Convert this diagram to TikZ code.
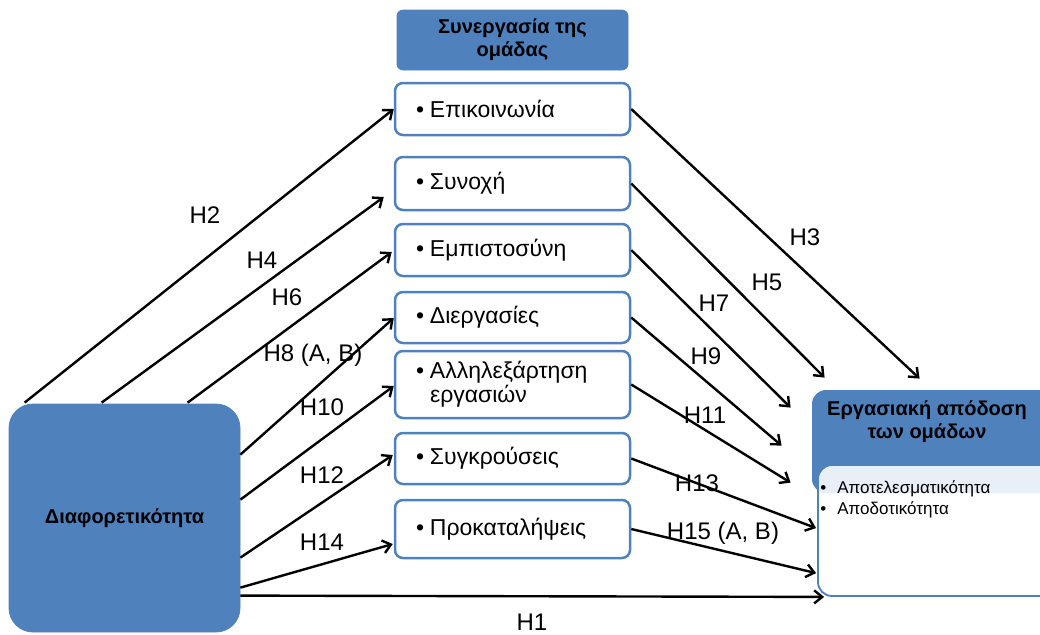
\documentclass[tikz,border=0pt]{standalone}
\usepackage{fontspec}
\setmainfont{Liberation Sans}
\usetikzlibrary{arrows.meta}
\definecolor{accblue}{RGB}{79,129,189}
\newcommand\myitemfont{\fontsize{11.5}{10}\selectfont}
\newcommand\myboldfont{\fontsize{10}{11.5}\selectfont\bfseries}
\newcommand\mylabfont{\fontsize{12}{14}\selectfont}
\newcommand\mysmallfont{\fontsize{8.5}{10.5}\selectfont}
\newcommand\bul{\makebox[7pt][l]{\textbullet}}
\newcommand\sbul{\makebox[8.5pt][l]{\textbullet}}
\begin{document}
\begin{tikzpicture}[x=0.5pt,y=-0.5pt,
  mitem/.style={draw=accblue, line width=1.25pt, fill=white, rounded corners=4pt,
    text width=96.5pt, inner xsep=10.5pt, inner ysep=0pt, align=left,
    font=\myitemfont, minimum height=#1},
  bluebox/.style={fill=accblue, draw=accblue, align=center, font=\myboldfont, inner sep=0pt},
  arr/.style={-{Straight Barb[length=4pt,width=6.5pt]}, line width=1.2pt, black},
  lab/.style={font=\mylabfont, inner sep=0pt}
]
\clip (0,0) rectangle (1040,634);
\useasboundingbox (0,0) rectangle (1040,634);

% top title
\node[bluebox, rounded corners=3pt, minimum width=115.5pt, minimum height=30pt] (ttl) at (512.5,40) {Συνεργασία της\\ομάδας};

% middle column
\node[mitem=26pt] (epi) at (512.5,109) {\bul Επικοινωνία};
\node[mitem=26.5pt] (syn) at (512.5,183.5) {\bul Συνοχή};
\node[mitem=26pt] (emp) at (512.5,250) {\bul Εμπιστοσύνη};
\node[mitem=25.5pt] (dier) at (512.5,317.5) {\bul Διεργασίες};
\node[mitem=33.5pt] (allil) at (512.5,384.5) {\bul Αλληλεξάρτηση\\\hspace*{7pt}εργασιών};
\node[mitem=25.5pt] (sygk) at (512.5,458.5) {\bul Συγκρούσεις};
\node[mitem=29pt] (prok) at (512.5,529) {\bul Προκαταλήψεις};

% left box
\node[bluebox, rounded corners=12pt, minimum width=115.5pt, minimum height=114pt] (div) at (124.5,518) {Διαφορετικότητα};

% right boxes
\node[bluebox, draw=none, rounded corners=7pt, minimum width=129pt, minimum height=51.5pt] (hdr) at (941,441.5) {};
\node[align=center, font=\myboldfont, inner sep=0pt] (hdrtext) at (927,422) {Εργασιακή απόδοση\\των ομάδων};
\node[draw=accblue, line width=0.9pt, fill=white, fill opacity=0.88, rounded corners=7pt,
      minimum width=126pt, minimum height=65.5pt, inner sep=0pt] (wbox) at (944,530.5) {};
\node[anchor=north west, align=left, font=\mysmallfont, inner sep=0pt] (perf) at (820,480) {\sbul Αποτελεσματικότητα\\\sbul Αποδοτικότητα};

% arrows from left box
\draw[arr] ([shift={(16,-1)}]div.north west) -- (epi.west);
\draw[arr] ([shift={(93,-1)}]div.north west) -- ([shift={(-10,13.5)}]syn.west);
\draw[arr] ([shift={(179,-1)}]div.north west) -- ([shift={(-2,2)}]emp.west);
\draw[arr] ([shift={(0,51)}]div.north east) -- ([shift={(0,0.5)}]dier.west);
\draw[arr] ([shift={(0,96)}]div.north east) -- ([shift={(0,1.5)}]allil.west);
\draw[arr] ([shift={(0,154)}]div.north east) -- ([shift={(-1,-3.5)}]sygk.west);
\draw[arr] ([shift={(0,184)}]div.north east) -- ([shift={(-1,15)}]prok.west);
\draw[arr] ([shift={(0,192)}]div.north east) -- ([shift={(7,0)}]wbox.south west);

% arrows to right box
\draw[arr] (epi.east) -- ([shift={(108,-11)}]hdr.north west);
\draw[arr] (syn.east) -- ([shift={(13,-12)}]hdr.north west);
\draw[arr] (emp.east) -- ([shift={(-21,18)}]hdr.north west);
\draw[arr] (dier.east) -- ([shift={(-30,56)}]hdr.north west);
\draw[arr] (allil.east) -- ([shift={(-21,93)}]hdr.north west);
\draw[arr] (sygk.east) -- ([shift={(-1,64)}]wbox.north west);
\draw[arr] (prok.east) -- ([shift={(-1,109)}]wbox.north west);

% labels
\node[lab] (l2) at (205,215) {H2};
\node[lab] (l4) at (262,260) {H4};
\node[lab] (l6) at (287,297) {H6};
\node[lab] (l8) at (313,355) {H8 (A, B)};
\node[lab] (l10) at (322,407) {H10};
\node[lab] (l12) at (322,475) {H12};
\node[lab] (l14) at (322,542) {H14};
\node[lab] (l3) at (805,237) {H3};
\node[lab] (l5) at (767,282) {H5};
\node[lab] (l7) at (714,303) {H7};
\node[lab] (l9) at (706,356) {H9};
\node[lab] (l11) at (705,415) {H11};
\node[lab] (l13) at (697,483) {H13};
\node[lab] (l15) at (723,533) {H15 (A, B)};
\node[lab] (l1) at (532,622) {H1};
\end{tikzpicture}
\end{document}
